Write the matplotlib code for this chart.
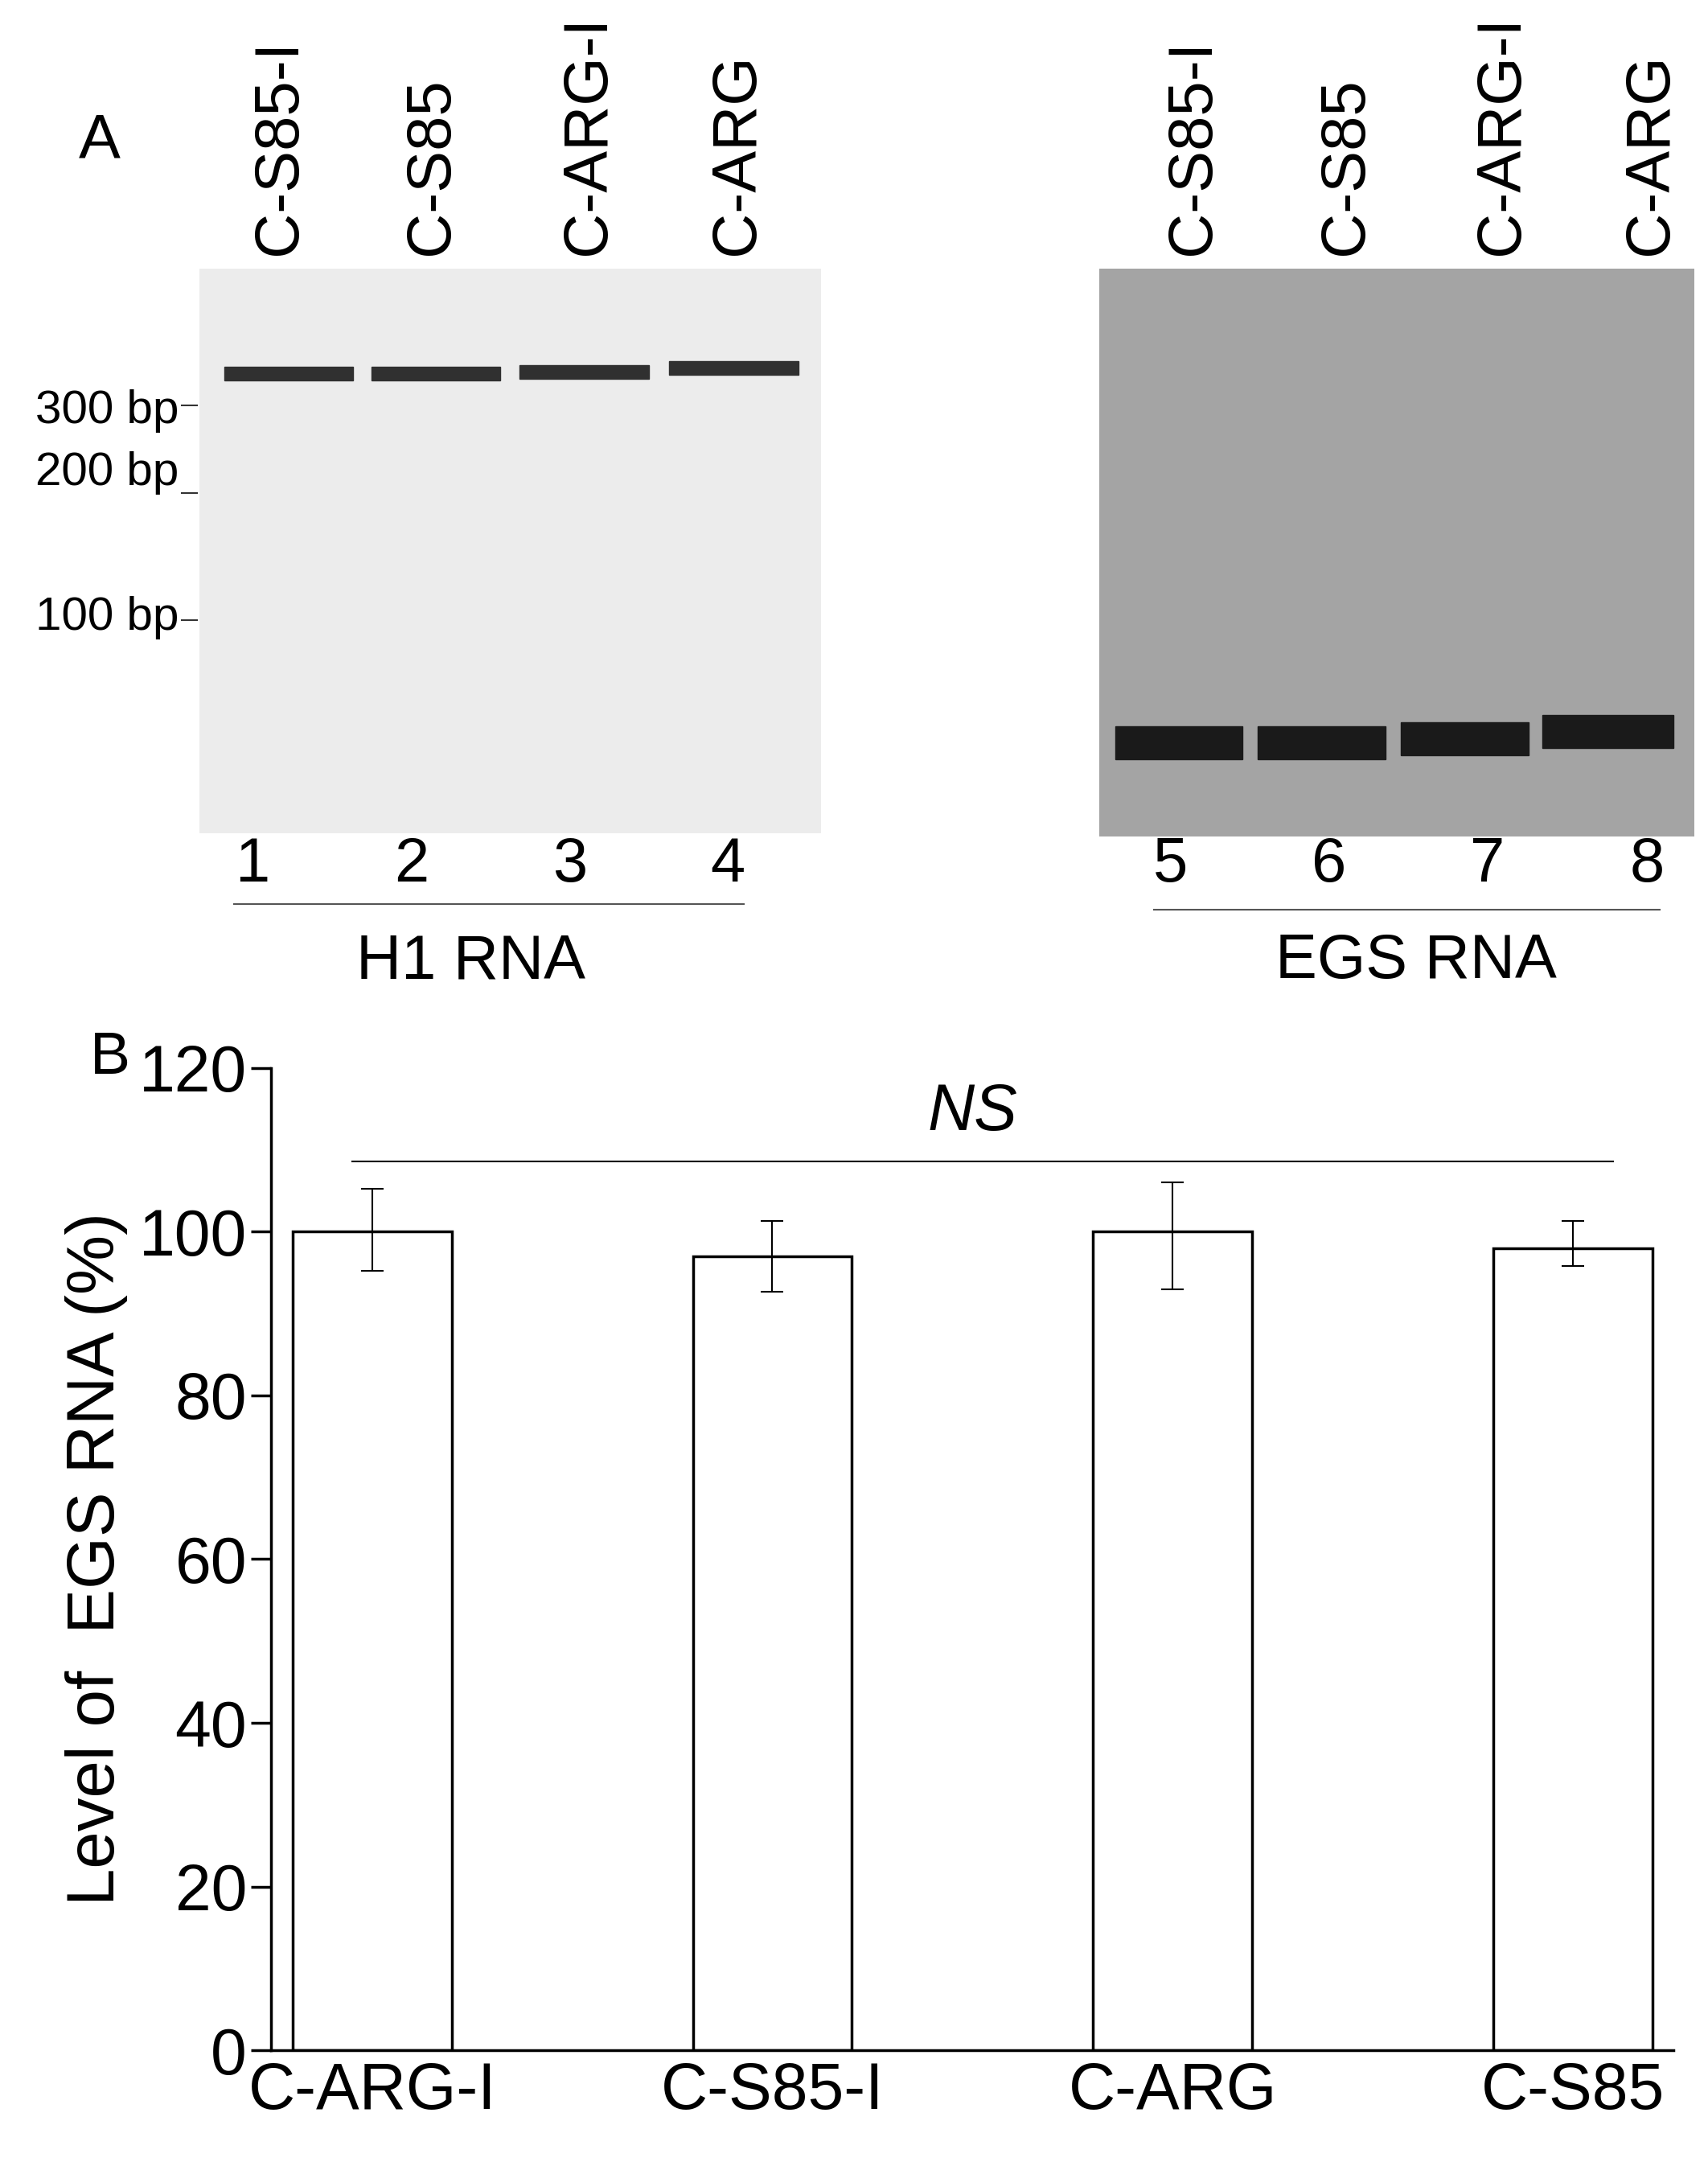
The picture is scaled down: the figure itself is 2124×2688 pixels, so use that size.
import matplotlib
matplotlib.use("Agg")
import matplotlib.pyplot as plt
from matplotlib.patches import Rectangle

plt.rcParams['font.family'] = ['Liberation Sans', 'DejaVu Sans']

categories = ["C-ARG-I", "C-S85-I", "C-ARG", "C-S85"]
values = [100, 97, 100, 98]
err_hi = [5.2, 4.3, 6.0, 3.3]
err_lo = [4.8, 4.3, 7.0, 2.2]
lane_labels = ["C-S85-I", "C-S85", "C-ARG-I", "C-ARG"]
lane_nums_left = ["1", "2", "3", "4"]
lane_nums_right = ["5", "6", "7", "8"]
markers = ["300 bp", "200 bp", "100 bp"]
yticks = [0, 20, 40, 60, 80, 100, 120]

W, H = 1240, 1569
fig = plt.figure(figsize=(21.24, 26.88), dpi=100)
def fx(x): return x / W
def fy(y): return 1 - y / H
def box(x0, y0, x1, y1): return [fx(x0), fy(y1), fx(x1) - fx(x0), fy(y0) - fy(y1)]

# Left gel
gl = fig.add_axes(box(145, 195, 596, 605))
gl.set_xlim(145, 596); gl.set_ylim(605, 195); gl.axis('off')
gl.add_patch(Rectangle((145, 195), 451, 410, color='#ececec', zorder=0))
for x0, x1, y in [(163, 256, 271), (270, 363, 271), (377, 471, 270), (486, 580, 267)]:
    gl.add_patch(Rectangle((x0, y - 5), x1 - x0, 10, color='#303030', zorder=2))
# Right gel
gr = fig.add_axes(box(798, 195, 1230, 607))
gr.set_xlim(798, 1230); gr.set_ylim(607, 195); gr.axis('off')
gr.add_patch(Rectangle((798, 195), 432, 412, color='#a4a4a4', zorder=0))
for x0, x1, y in [(810, 902, 539), (913, 1006, 539), (1017, 1110, 536), (1120, 1215, 531)]:
    gr.add_patch(Rectangle((x0, y - 12), x1 - x0, 24, color='#1a1a1a', zorder=2))

for xs, labs in [([203, 313, 427, 535], lane_labels), ([866, 977, 1090, 1198], lane_labels)]:
    for x, t in zip(xs, labs):
        fig.text(fx(x), fy(185), t, rotation=90, ha='center', va='bottom', fontsize=56)
for xs, labs in [([183, 299, 414, 528], lane_nums_left), ([850, 965, 1080, 1196], lane_nums_right)]:
    for x, t in zip(xs, labs):
        fig.text(fx(x), fy(628), t, ha='center', va='center', fontsize=56)
fig.add_artist(plt.Line2D([fx(170), fx(540)], [fy(656), fy(656)], color='#555', lw=1.5))
fig.add_artist(plt.Line2D([fx(838), fx(1205)], [fy(660), fy(660)], color='#555', lw=1.5))
fig.text(fx(342), fy(698), "H1 RNA", ha='center', va='center', fontsize=56)
fig.text(fx(1028), fy(698), "EGS RNA", ha='center', va='center', fontsize=56)
for (t, y, ty) in zip(markers, [298, 343, 448], [294, 358, 450]):
    fig.text(fx(130), fy(y), t, ha='right', va='center', fontsize=42)
    fig.add_artist(plt.Line2D([fx(132), fx(143)], [fy(ty), fy(ty)], color='#333', lw=1.5))
fig.text(fx(72), fy(103), "A", ha='center', va='center', fontsize=56)
fig.text(fx(80), fy(768), "B", ha='center', va='center', fontsize=54)

# Panel B
ax = fig.add_axes(box(197, 775, 1215, 1488))
x = list(range(len(categories)))
ax.bar(x, values, width=0.397, color='white', edgecolor='black', linewidth=2.5)
ax.errorbar(x, values, yerr=[err_lo, err_hi], fmt='none', ecolor='black', elinewidth=1.5, capsize=10, capthick=1.5)
ax.set_xlim(-0.252, 3.252); ax.set_ylim(0, 120)
ax.set_yticks(yticks); ax.set_yticklabels([str(v) for v in yticks])
ax.set_xticks(x); ax.set_xticklabels(categories)
ax.tick_params(axis='y', labelsize=58, length=18, width=2.5, direction='out', pad=4)
ax.tick_params(axis='x', labelsize=58, length=0, pad=10)
for s in ['top', 'right']: ax.spines[s].set_visible(False)
for s in ['left', 'bottom']: ax.spines[s].set_linewidth(2.5)
ax.set_ylabel("Level of  EGS RNA (%)", fontsize=60, labelpad=10)
ax.plot([-0.05, 3.1], [108.6, 108.6], color='black', lw=1.5)
ax.text(1.5, 114.5, "NS", ha='center', va='center', fontsize=58, style='italic')

fig.savefig("out.png", dpi=100, facecolor='white')
